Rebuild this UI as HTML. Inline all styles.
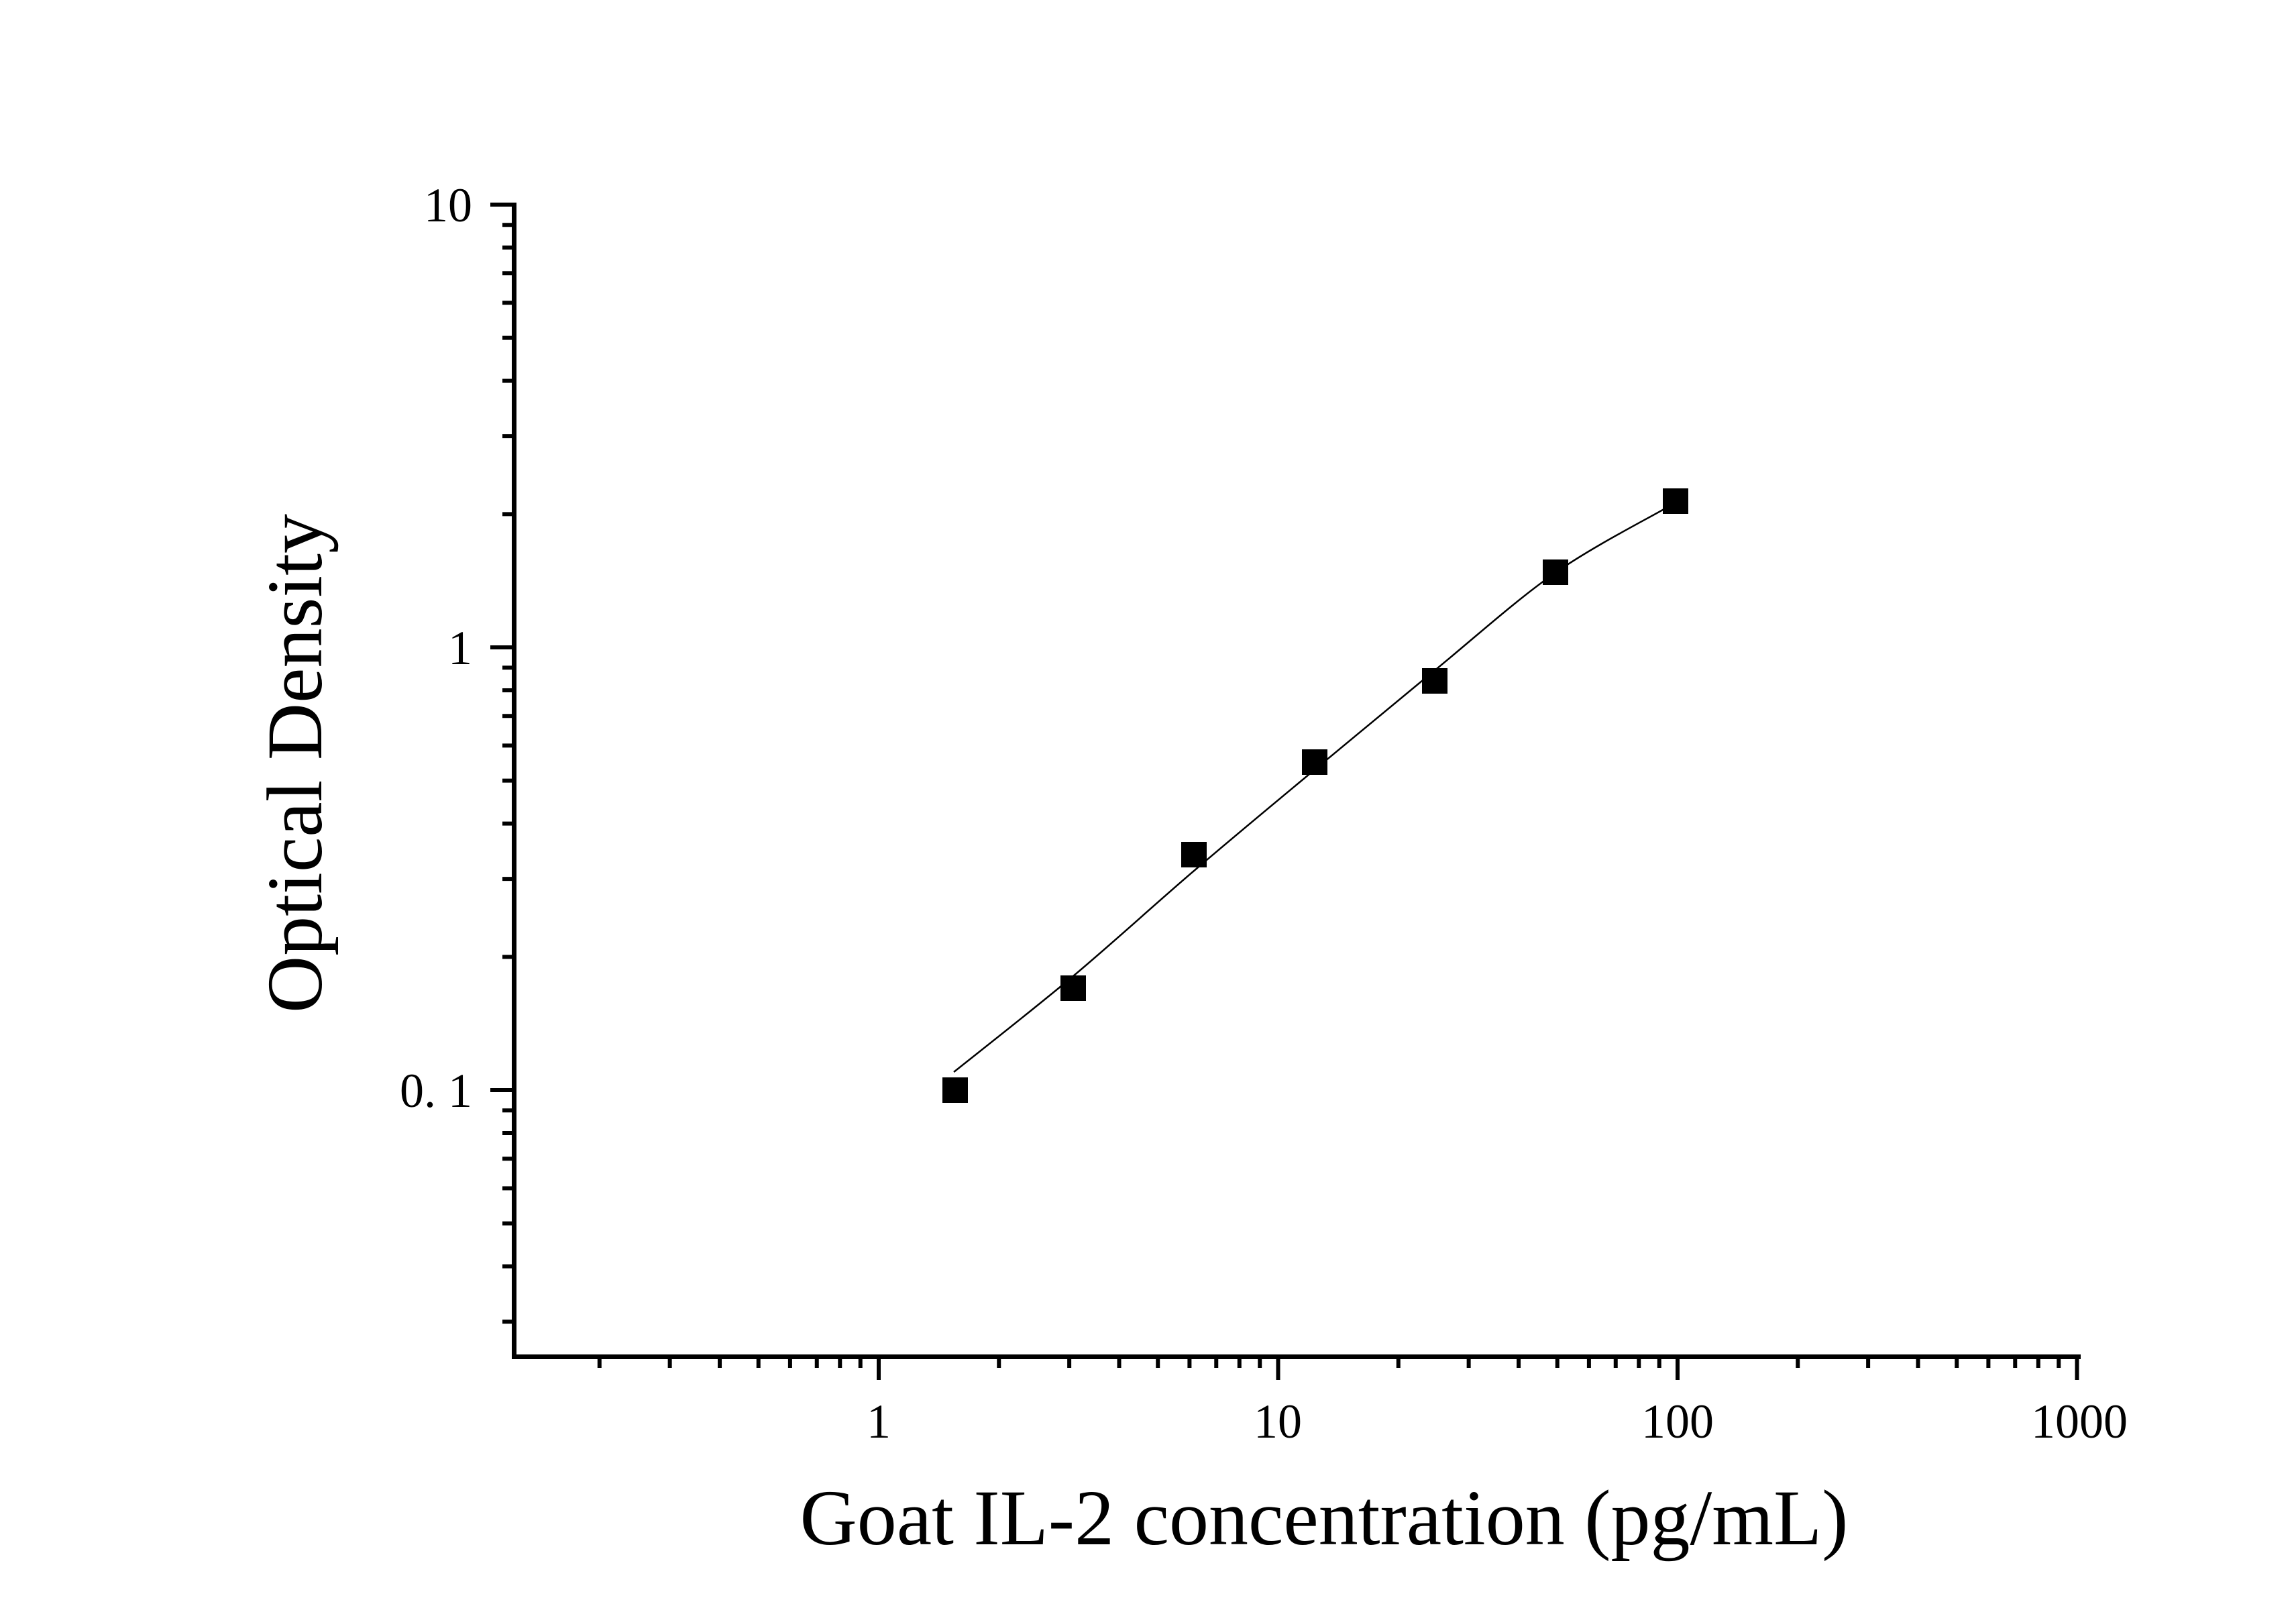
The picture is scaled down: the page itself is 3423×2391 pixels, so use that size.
<!DOCTYPE html>
<html><head><meta charset="utf-8"><style>html,body{margin:0;padding:0;background:#fff;}svg{display:block}</style></head>
<body>
<svg id="s" xmlns="http://www.w3.org/2000/svg" width="3423" height="2391" viewBox="0 0 3423 2391">
<rect width="3423" height="2391" fill="#fff"/>
<g id="g"></g>
<g font-family="Liberation Serif, serif" fill="#000">
<text x="704" y="330" font-size="72" text-anchor="end">10</text>
<text x="704" y="990" font-size="72" text-anchor="end">1</text>
<text x="704" y="1650" font-size="72" text-anchor="end">0. 1</text>
<text x="1310" y="2143" font-size="72" text-anchor="middle">1</text>
<text x="1905" y="2143" font-size="72" text-anchor="middle">10</text>
<text x="2501" y="2143" font-size="72" text-anchor="middle">100</text>
<text x="3100" y="2143" font-size="72" text-anchor="middle">1000</text>
<text x="1974" y="2302" font-size="118" text-anchor="middle">Goat IL-2 concentration (pg/mL)</text>
<text transform="translate(479,1138) rotate(-90)" font-size="118" text-anchor="middle">Optical Density</text>
</g>
</svg>
<script>
var g=document.getElementById('g'),h='';
function X(v){return 1310+595.5*Math.log10(v);}
function Y(v){return 965-660*Math.log10(v);}
h+='<line x1="766.5" y1="302" x2="766.5" y2="2026" stroke="#000" stroke-width="7"/>';
h+='<line x1="763" y1="2022.5" x2="3102" y2="2022.5" stroke="#000" stroke-width="7"/>';
[10,1,0.1].forEach(function(v){var y=Y(v);h+='<line x1="731" y1="'+y+'" x2="766" y2="'+y+'" stroke="#000" stroke-width="6"/>';});
[1,0.1].forEach(function(d){for(var k=2;k<=9;k++){var y=Y(d*k);h+='<line x1="749" y1="'+y+'" x2="766" y2="'+y+'" stroke="#000" stroke-width="6"/>';}});
for(var k=3;k<=9;k++){var y=Y(0.01*k);h+='<line x1="749" y1="'+y+'" x2="766" y2="'+y+'" stroke="#000" stroke-width="6"/>';}
[1,10,100,1000].forEach(function(v){var x=X(v);h+='<line x1="'+x+'" y1="2022" x2="'+x+'" y2="2057" stroke="#000" stroke-width="6"/>';});
[0.1,1,10,100].forEach(function(d){for(var k=2;k<=9;k++){var x=X(d*k);h+='<line x1="'+x+'" y1="2022" x2="'+x+'" y2="2039" stroke="#000" stroke-width="6"/>';}});
var P=[[1422,1598],[1600,1455],[1779,1299],[1958,1149],[2137,1001],[2317,855],[2486,756]];
var d='M'+P[0][0]+','+P[0][1];
for(var i=0;i<P.length-1;i++){var p0=P[Math.max(0,i-1)],p1=P[i],p2=P[i+1],p3=P[Math.min(P.length-1,i+2)];
d+=' C'+(p1[0]+(p2[0]-p0[0])/6)+','+(p1[1]+(p2[1]-p0[1])/6)+' '+(p2[0]-(p3[0]-p1[0])/6)+','+(p2[1]-(p3[1]-p1[1])/6)+' '+p2[0]+','+p2[1];}
h+='<path d="'+d+'" fill="none" stroke="#000" stroke-width="2.5"/>';
var M=[[1424,1625],[1600,1473],[1780,1274],[1960,1136],[2139,1015],[2319,853],[2498,747]];
M.forEach(function(m){h+='<rect x="'+(m[0]-19)+'" y="'+(m[1]-19)+'" width="38" height="38" fill="#000"/>';});
g.innerHTML=h;
</script>
</body></html>
